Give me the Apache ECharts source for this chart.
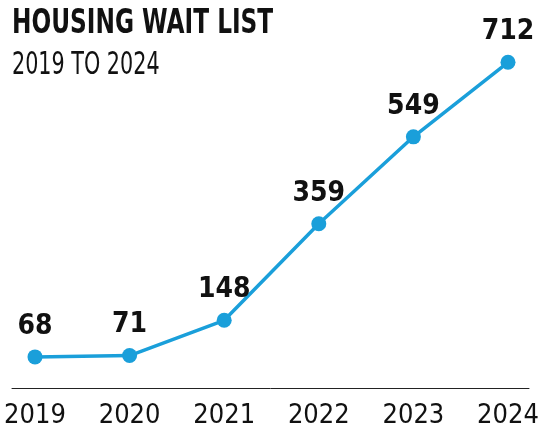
<!DOCTYPE html>
<html>
<head>
<meta charset="utf-8">
<script src="https://cdn.jsdelivr.net/npm/echarts@6/dist/echarts.min.js"></script>
<style>
  html, body { margin: 0; padding: 0; background: #fff; overflow: hidden; }
  #chart { width: 538px; height: 428px; }
</style>
</head>
<body>
<div id="chart"></div>
<script>
// chart data
var years = [2019, 2020, 2021, 2022, 2023, 2024];
var waitList = [68, 71, 148, 359, 549, 712];
var titleText = 'HOUSING WAIT LIST';
var subtitleText = '2019 TO 2024';

var FONT = '"DejaVu Sans Condensed", "Roboto", sans-serif';
var BLUE = '#1a9fda';

var myChart = echarts.init(document.getElementById('chart'));

var points = years.map(function (y, i) { return [y, waitList[i]]; });

var option = {
    animation: false,
    // title drawn as graphic text so it can be squeezed like the condensed original
    graphic: [
        {
            type: 'text',
            x: 12,
            y: 7,
            scaleX: 0.76,
            style: {
                text: titleText,
                font: 'bold 34px ' + FONT,
                fill: '#111',
                textVerticalAlign: 'top'
            }
        },
        {
            type: 'text',
            x: 12,
            y: 50,
            scaleX: 0.72,
            style: {
                text: subtitleText,
                font: '32px ' + FONT,
                fill: '#111',
                textVerticalAlign: 'top'
            }
        }
    ],
    grid: {
        left: 12,
        right: 9,
        top: 22,
        bottom: 40,
        outerBoundsMode: 'none',
        containLabel: false
    },
    xAxis: {
        type: 'value',
        min: 2018.757,
        max: 2024.222,
        axisLine: { show: true, lineStyle: { color: '#222', width: 1 } },
        axisTick: { show: false },
        splitLine: { show: false },
        axisLabel: {
            customValues: years,
            margin: 14,
            fontFamily: FONT,
            fontSize: 27,
            color: '#111',
            formatter: function (v) { return String(v); }
        }
    },
    yAxis: {
        type: 'value',
        min: 0,
        max: 800,
        show: false
    },
    series: [
        {
            type: 'line',
            data: points,
            symbol: 'circle',
            symbolSize: 15,
            lineStyle: { color: BLUE, width: 3.5 },
            itemStyle: { color: BLUE },
            label: {
                show: true,
                position: 'top',
                distance: 9,
                fontFamily: FONT,
                fontWeight: 'bold',
                fontSize: 28,
                color: '#111',
                formatter: function (p) { return p.value[1]; }
            }
        }
    ]
};

myChart.setOption(option);
</script>
</body>
</html>
